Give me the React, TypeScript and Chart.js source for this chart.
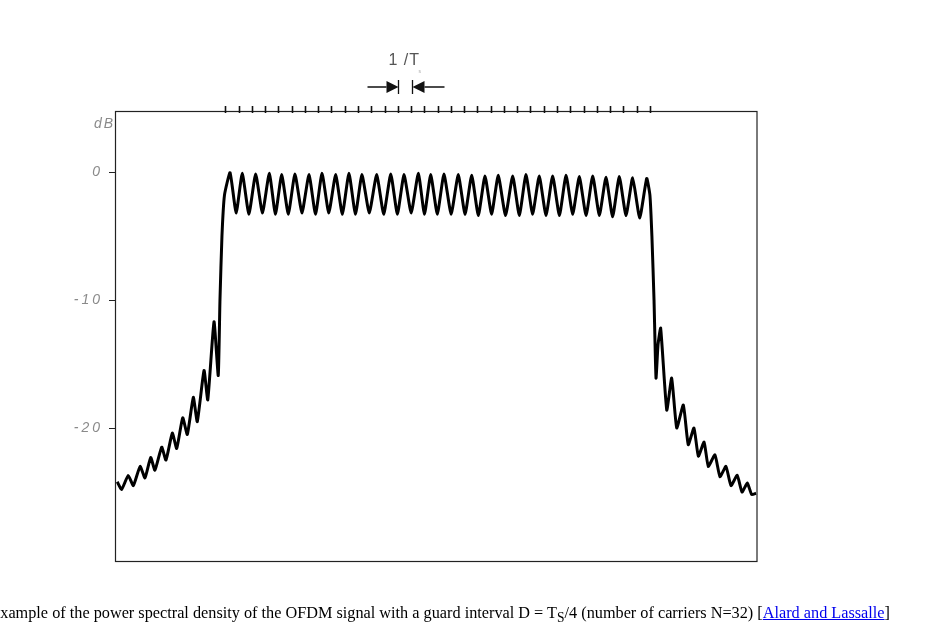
import React, { useEffect, useRef } from "react";
import { Chart, registerables } from "chart.js";

Chart.register(...registerables);

// Frequency in units of carrier spacing (1/Ts), centred on the band; PSD in dB
const tailLeftF = [-24.14, -23.81, -23.31, -22.93, -22.42, -22.05, -21.62, -21.3, -20.79, -20.47, -19.99, -19.66, -19.21, -18.86, -18.41, -18.11, -17.6, -17.32, -16.85, -16.53, -16.4, -16.25, -16.06];
const tailLeftDb = [-24.2, -24.8, -23.7, -24.5, -23.0, -23.9, -22.3, -23.3, -21.5, -22.5, -20.4, -21.6, -19.2, -20.5, -17.6, -19.5, -15.5, -17.8, -11.7, -15.9, -10.0, -5.0, -1.8];

const bandPeakF = [-15.64, -14.72, -13.71, -12.68, -11.75, -10.75, -9.69, -8.71, -7.68, -6.68, -5.7, -4.59, -3.53, -2.53, -1.45, -0.52, 0.48, 1.56, 2.57, 3.57, 4.57, 5.66, 6.66, 7.66, 8.67, 9.68, 10.68, 11.69, 12.69, 13.69, 14.7, 15.76];
const bandPeakDb = [-0.05, -0.1, -0.15, -0.1, -0.2, -0.15, -0.2, -0.1, -0.2, -0.1, -0.2, -0.2, -0.15, -0.2, -0.1, -0.2, -0.15, -0.2, -0.25, -0.3, -0.25, -0.3, -0.2, -0.3, -0.3, -0.25, -0.35, -0.3, -0.4, -0.35, -0.45, -0.5];
const bandTroughF = [-15.18, -14.22, -13.2, -12.22, -11.25, -10.22, -9.2, -8.2, -7.18, -6.19, -5.15, -4.06, -3.03, -1.99, -0.99, -0.02, 1.02, 2.07, 3.07, 4.07, 5.12, 6.16, 7.16, 8.17, 9.18, 10.18, 11.19, 12.19, 13.19, 14.2, 15.23];
const bandTroughDb = [-3.2, -3.3, -3.2, -3.3, -3.3, -3.2, -3.3, -3.2, -3.3, -3.3, -3.2, -3.3, -3.3, -3.2, -3.3, -3.3, -3.3, -3.3, -3.4, -3.3, -3.4, -3.4, -3.3, -3.4, -3.4, -3.3, -3.4, -3.4, -3.5, -3.4, -3.6];

const tailRightF = [16.0, 16.15, 16.31, 16.46, 16.61, 16.81, 17.27, 17.64, 18.02, 18.52, 18.89, 19.32, 19.65, 20.08, 20.4, 20.9, 21.28, 21.73, 22.11, 22.58, 22.94, 23.34, 23.67, 24.0];
const tailRightDb = [-1.8, -5.0, -10.0, -16.1, -13.5, -12.2, -18.6, -16.1, -20.0, -18.2, -21.3, -20.0, -22.2, -21.1, -23.0, -22.1, -23.8, -23.0, -24.5, -23.7, -25.0, -24.3, -25.2, -25.1];

const yTickValues = [0, -10, -20];
const yTickLabels = ["0", "-10", "-20"];
const rulerTicks = [-16, -15, -14, -13, -12, -11, -10, -9, -8, -7, -6, -5, -4, -3, -2, -1, 0, 1, 2, 3, 4, 5, 6, 7, 8, 9, 10, 11, 12, 13, 14, 15, 16];
const spacingMarks = [-2.98, -1.9]; // the two bars of the 1/T annotation

const X_MIN = -24.31;
const X_MAX = 24.07;
const Y_MIN = -30.39;
const Y_MAX = 4.77;

function buildPoints() {
  const pts: { x: number; y: number }[] = [];
  tailLeftF.forEach((f, i) => pts.push({ x: f, y: tailLeftDb[i] }));
  bandPeakF.forEach((f, i) => {
    pts.push({ x: f, y: bandPeakDb[i] });
    if (i < bandTroughF.length) pts.push({ x: bandTroughF[i], y: bandTroughDb[i] });
  });
  tailRightF.forEach((f, i) => pts.push({ x: f, y: tailRightDb[i] }));
  return pts;
}

const decorPlugin = {
  id: "decor",
  afterDraw(chart: any) {
    const { ctx, chartArea: a, scales } = chart;
    const xs = scales.x;
    const ys = scales.y;
    ctx.save();
    // frame
    ctx.strokeStyle = "#222";
    ctx.lineWidth = 1.2;
    ctx.strokeRect(a.left + 0.5, a.top + 0.5, a.right - a.left - 0.5, a.bottom - a.top);
    // ruler ticks on top edge
    ctx.lineWidth = 1.6;
    ctx.strokeStyle = "#111";
    rulerTicks.forEach((f) => {
      const px = Math.round(xs.getPixelForValue(f)) + 0.5;
      ctx.beginPath();
      ctx.moveTo(px, a.top - 5);
      ctx.lineTo(px, a.top + 2);
      ctx.stroke();
    });
    // y ticks and labels
    ctx.lineWidth = 1;
    ctx.strokeStyle = "#222";
    ctx.fillStyle = "#8a8a8a";
    ctx.font = "italic 14px 'Liberation Sans', sans-serif";
    (ctx as any).letterSpacing = "3px";
    ctx.textAlign = "right";
    ctx.textBaseline = "middle";
    yTickValues.forEach((v, i) => {
      const py = Math.round(ys.getPixelForValue(v)) + 0.5;
      ctx.beginPath();
      ctx.moveTo(a.left - 6, py);
      ctx.lineTo(a.left, py);
      ctx.stroke();
      ctx.fillText(yTickLabels[i], a.left - 12, py);
    });
    (ctx as any).letterSpacing = "2px";
    ctx.fillText("dB", a.left, a.top + 13);
    // 1/T annotation
    const bL = Math.round(xs.getPixelForValue(spacingMarks[0])) + 0.5;
    const bR = Math.round(xs.getPixelForValue(spacingMarks[1])) + 0.5;
    const ay = a.top - 24;
    ctx.strokeStyle = "#111";
    ctx.fillStyle = "#111";
    ctx.lineWidth = 1.3;
    ctx.beginPath();
    ctx.moveTo(bL - 31, ay);
    ctx.lineTo(bL - 12, ay);
    ctx.moveTo(bR + 12, ay);
    ctx.lineTo(bR + 32, ay);
    ctx.moveTo(bL, ay - 7);
    ctx.lineTo(bL, ay + 7);
    ctx.moveTo(bR, ay - 7);
    ctx.lineTo(bR, ay + 7);
    ctx.stroke();
    ctx.beginPath();
    ctx.moveTo(bL - 12, ay - 6);
    ctx.lineTo(bL, ay);
    ctx.lineTo(bL - 12, ay + 6);
    ctx.closePath();
    ctx.fill();
    ctx.beginPath();
    ctx.moveTo(bR + 12, ay - 6);
    ctx.lineTo(bR, ay);
    ctx.lineTo(bR + 12, ay + 6);
    ctx.closePath();
    ctx.fill();
    ctx.fillStyle = "#555";
    (ctx as any).letterSpacing = "1px";
    ctx.font = "16px 'Liberation Sans', sans-serif";
    ctx.textAlign = "left";
    ctx.textBaseline = "middle";
    ctx.fillText("1 /T", bL - 10, ay - 26);
    ctx.fillStyle = "#aaa";
    ctx.font = "5px 'Liberation Sans', sans-serif";
    ctx.fillText("s", bR + 6, ay - 15);
    ctx.restore();
  },
};

export default function App() {
  const canvasRef = useRef<HTMLCanvasElement | null>(null);

  useEffect(() => {
    if (!canvasRef.current) return;
    const chart = new Chart(canvasRef.current, {
      type: "line",
      data: {
        datasets: [
          {
            data: buildPoints(),
            borderColor: "#000",
            borderWidth: 3,
            pointRadius: 0,
            fill: false,
            tension: 0.15,
            borderJoinStyle: "round",
          },
        ],
      },
      options: {
        animation: false,
        responsive: false,
        devicePixelRatio: 1,
        parsing: false,
        layout: { padding: { left: 115, top: 111, right: 175, bottom: 68 } },
        plugins: { legend: { display: false }, tooltip: { enabled: false } },
        scales: {
          x: { type: "linear", display: false, min: X_MIN, max: X_MAX },
          y: { type: "linear", display: false, min: Y_MIN, max: Y_MAX },
        },
      } as any,
      plugins: [decorPlugin],
    });
    return () => chart.destroy();
  }, []);

  return (
    <div style={{ position: "absolute", left: 0, top: 0, width: 932, height: 629, overflow: "hidden", background: "#fff" }}>
      <canvas ref={canvasRef} width={932} height={629} style={{ position: "absolute", left: 0, top: 0, width: 932, height: 629 }} />
      <div
        style={{
          position: "absolute",
          top: 604,
          right: 42,
          whiteSpace: "nowrap",
          fontFamily: "'Liberation Serif', 'Times New Roman', serif",
          fontSize: 16.25,
          color: "#000",
        }}
      >
        Example of the power spectral density of the OFDM signal with a guard interval D = T<sub>S</sub>/4 (number of carriers N=32) [
        <a href="#" style={{ color: "#0000EE" }}>Alard and Lassalle</a>]
      </div>
    </div>
  );
}
